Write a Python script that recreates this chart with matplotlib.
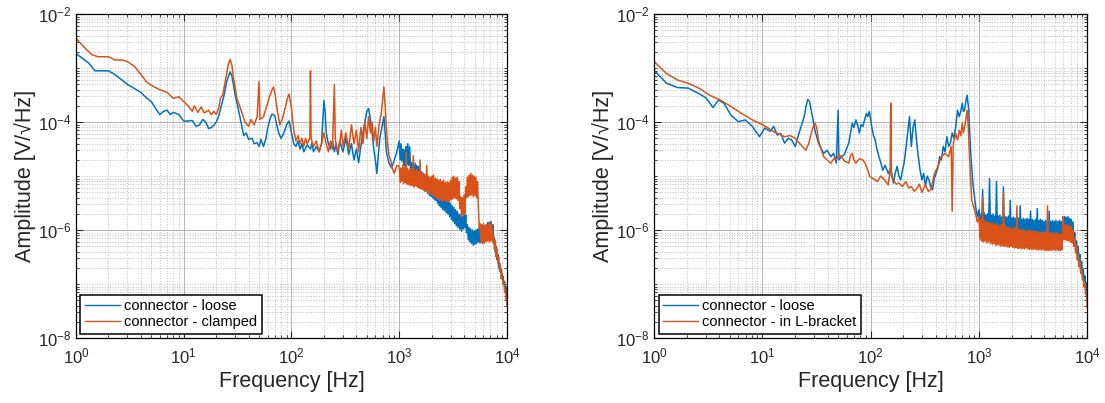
import numpy as np
import matplotlib
matplotlib.use('Agg')
import matplotlib.pyplot as plt
from matplotlib.ticker import FixedLocator, LogFormatterSciNotation, NullFormatter

plt.rcParams['font.family'] = ['Liberation Sans', 'DejaVu Sans']
plt.rcParams['mathtext.fontset'] = 'custom'
plt.rcParams['mathtext.rm'] = 'Liberation Sans'

BLUE = '#0072BD'
ORANGE = '#D95319'

# ---- spectra, amplitudes given as log10(V/sqrt(Hz)) ----

# left panel: loose vs clamped, 1 Hz .. 1 kHz
left_loose_f = [1.0, 1.3, 1.5, 2.0, 2.3, 3.0, 3.5, 4.0, 4.5, 5.0,
                5.5, 6.0, 6.5, 7.0, 7.5, 8.0, 9.0, 10, 11, 12,
                13, 14, 15, 16, 17, 18, 19, 20, 21, 22,
                23, 24, 25, 26, 27, 28, 29, 30, 32, 34,
                36, 38, 40, 43, 45, 48, 50, 52, 55, 58,
                60, 63, 66, 70, 73, 76, 80, 85, 90, 95,
                100, 105, 110, 115, 120, 125, 130, 140, 150, 155,
                160, 170, 180, 190, 200, 205, 210, 220, 230, 240,
                250, 260, 270, 280, 300, 320, 340, 360, 380, 400,
                420, 440, 460, 480, 500, 520, 540, 560, 580, 600,
                620, 640, 660, 690, 720, 740, 760, 800, 850, 900,
                950]
left_loose_a = [-2.73, -2.90, -3.05, -3.05, -3.12, -3.30, -3.38, -3.45, -3.55, -3.62,
                -3.75, -3.86, -3.80, -3.78, -3.86, -3.82, -3.86, -3.98, -3.98, -3.97,
                -4.08, -4.05, -3.95, -4.00, -4.12, -4.10, -4.06, -4.00, -3.90, -3.75,
                -3.60, -3.45, -3.25, -3.15, -3.07, -3.15, -3.32, -3.50, -3.75, -4.00,
                -4.25, -4.20, -4.32, -4.30, -4.40, -4.38, -4.45, -4.32, -4.45, -4.30,
                -4.12, -3.95, -3.85, -3.88, -4.05, -4.20, -4.30, -4.20, -4.05, -3.98,
                -4.20, -4.40, -4.45, -4.35, -4.50, -4.40, -4.55, -4.42, -4.50, -4.38,
                -4.55, -4.45, -4.55, -4.40, -3.60, -3.80, -4.20, -4.40, -4.50, -4.35,
                -4.55, -4.40, -4.60, -4.35, -4.55, -4.30, -4.60, -4.40, -4.70, -4.50,
                -4.75, -4.45, -4.20, -4.00, -3.80, -3.75, -3.95, -4.20, -4.50, -4.70,
                -4.95, -4.60, -4.30, -4.10, -3.90, -4.20, -4.55, -4.75, -4.85, -4.70,
                -4.55]

left_clamped_f = [1.0, 1.2, 1.4, 1.6, 2.0, 2.3, 2.7, 3.0, 3.5, 4.0,
                  4.5, 5.0, 6.0, 7.0, 8.0, 9.0, 10, 11, 12, 12.5,
                  13.5, 14.5, 15.5, 17, 18, 19, 20, 21, 22, 23,
                  24, 25, 26, 27, 28, 29, 30, 31, 33, 35,
                  37, 40, 42, 45, 48, 50, 51, 55, 58, 62,
                  66, 68, 70, 74, 78, 82, 87, 92, 95, 100,
                  105, 110, 115, 120, 125, 130, 135, 140, 148, 150,
                  152, 160, 170, 180, 190, 200, 210, 220, 230, 240,
                  250, 255, 265, 280, 290, 300, 320, 340, 360, 380,
                  400, 420, 440, 460, 480, 500, 520, 540, 560, 580,
                  600, 620, 650, 680, 700, 720, 740, 760, 780, 800,
                  830, 860, 900, 950]
left_clamped_a = [-2.45, -2.62, -2.75, -2.79, -2.79, -2.85, -2.85, -2.88, -2.97, -3.12,
                  -3.25, -3.32, -3.40, -3.45, -3.56, -3.53, -3.62, -3.70, -3.80, -3.70,
                  -3.82, -3.72, -3.83, -3.78, -3.86, -3.80, -3.86, -3.75, -3.55, -3.50,
                  -3.30, -3.10, -2.92, -2.84, -2.95, -3.20, -3.35, -3.55, -3.70, -3.85,
                  -4.00, -4.08, -3.95, -4.05, -3.90, -3.25, -3.95, -3.90, -3.75, -3.55,
                  -3.40, -3.35, -3.45, -3.80, -4.05, -3.95, -3.75, -3.55, -3.48, -3.75,
                  -4.15, -4.35, -4.25, -4.40, -4.30, -4.45, -4.30, -4.40, -4.30, -3.05,
                  -4.30, -4.45, -4.35, -4.55, -4.40, -4.20, -4.40, -4.55, -4.35, -4.50,
                  -3.30, -4.30, -4.55, -4.40, -4.15, -4.45, -4.20, -4.50, -4.05, -4.40,
                  -4.15, -4.55, -4.10, -4.40, -4.00, -4.30, -3.90, -4.20, -4.00, -4.35,
                  -4.10, -4.45, -4.05, -3.85, -3.60, -3.35, -3.70, -4.10, -4.40, -4.60,
                  -4.70, -4.85, -4.95, -4.80]

# right panel: loose vs L-bracket, 1 Hz .. 1 kHz
right_loose_f = [1.0, 1.3, 1.64, 2.06, 2.58, 3.0, 3.5, 3.92, 4.4, 5.12,
                 5.96, 6.93, 8.07, 9.39, 10.5, 11.8, 12.7, 13.7, 14.8, 16.0,
                 17.3, 18.6, 20.1, 21.7, 23.0, 24.3, 25.2, 26.2, 27.2, 28.2,
                 29.3, 30.5, 32.9, 36.8, 39.5, 42.9, 45.5, 48.1, 50.0, 50.8,
                 53.8, 57, 62.7, 65, 67.6, 70, 72.8, 75.5, 78.5, 81.5,
                 84.6, 88, 91.3, 94, 97.1, 102, 106, 110, 114, 119,
                 124, 129, 136, 145, 153, 162, 168, 175, 182, 189,
                 196, 203, 211, 219, 228, 237, 246, 255, 265, 275,
                 286, 297, 308, 320, 332, 345, 358, 372, 386, 401,
                 417, 433, 450, 467, 485, 504, 524, 544, 565, 587,
                 610, 633, 657, 678, 700, 717, 734, 755, 776, 790,
                 804, 835, 877, 930, 965]
right_loose_a = [-3.04, -3.28, -3.36, -3.37, -3.47, -3.55, -3.73, -3.59, -3.65, -3.87,
                 -3.99, -3.96, -4.08, -4.27, -4.11, -4.17, -4.08, -4.24, -4.21, -4.39,
                 -4.30, -4.33, -4.45, -4.21, -4.05, -3.90, -3.72, -3.58, -3.62, -3.78,
                 -3.95, -4.15, -4.39, -4.58, -4.52, -4.64, -4.58, -4.76, -3.78, -4.70,
                 -4.64, -4.60, -4.39, -4.20, -4.02, -4.10, -3.96, -4.05, -4.20, -4.05,
                 -4.08, -3.95, -3.84, -3.90, -3.80, -4.08, -4.25, -4.33, -4.50, -4.64,
                 -4.75, -4.89, -4.80, -4.95, -4.85, -5.13, -4.95, -4.82, -5.00, -5.07,
                 -4.90, -4.76, -4.50, -4.21, -3.90, -4.45, -4.10, -3.96, -4.35, -4.64,
                 -4.90, -5.07, -4.95, -5.19, -5.00, -5.07, -5.20, -5.25, -5.05, -4.95,
                 -4.85, -4.64, -4.70, -4.45, -4.55, -4.27, -4.45, -4.39, -4.20, -4.30,
                 -4.08, -3.78, -3.90, -3.80, -3.65, -3.80, -3.78, -3.62, -3.50, -3.65,
                 -3.78, -4.52, -5.13, -5.56, -5.75]

right_bracket_f = [1.0, 1.3, 1.64, 2.06, 2.58, 3.24, 4.07, 5.12, 6.42, 8.07,
                   10.1, 11.5, 12.7, 14.2, 16.0, 18.0, 20.1, 21.7, 23.4, 25.2,
                   26.7, 28.2, 29.3, 30.5, 31.7, 32.9, 34.8, 36.8, 39.5, 42.9,
                   45.5, 48.1, 50.8, 53.8, 57, 62.7, 65, 67.6, 70, 72.8,
                   78.5, 84.6, 88, 91.3, 98.4, 106, 115, 124, 134, 145,
                   151, 153, 155, 162, 172, 182, 196, 211, 224, 237,
                   251, 265, 281, 297, 320, 340, 360, 388, 418, 450,
                   485, 523, 553, 565, 578, 610, 633, 657, 680, 700,
                   717, 734, 755, 776, 794, 812, 855, 930, 965]
right_bracket_a = [-2.88, -3.10, -3.22, -3.28, -3.37, -3.50, -3.59, -3.71, -3.84, -3.96,
                   -4.05, -4.12, -4.18, -4.22, -4.27, -4.25, -4.30, -4.38, -4.45, -4.52,
                   -4.40, -4.21, -4.10, -4.02, -4.10, -4.33, -4.50, -4.64, -4.70, -4.76,
                   -4.68, -4.70, -4.60, -4.64, -4.72, -4.76, -4.62, -4.58, -4.70, -4.76,
                   -4.68, -4.70, -4.75, -4.82, -5.01, -5.05, -5.10, -5.00, -5.07, -5.16,
                   -4.90, -3.65, -5.00, -5.07, -5.15, -5.13, -5.19, -5.10, -5.22, -5.19,
                   -5.28, -5.24, -5.15, -5.30, -5.16, -5.28, -5.25, -4.95, -4.82, -4.64,
                   -4.58, -4.64, -4.45, -5.65, -4.40, -4.21, -4.33, -4.15, -4.25, -4.02,
                   -4.20, -4.10, -3.95, -3.78, -4.05, -4.52, -5.44, -5.70, -5.85]

# 1 kHz .. 10 kHz, dense noisy part of all four spectra
band_f = [1000, 1020, 1040, 1060, 1080, 1100, 1120, 1140, 1160, 1180,
          1200, 1225, 1250, 1275, 1300, 1325, 1350, 1375, 1400, 1425,
          1450, 1475, 1500, 1530, 1560, 1590, 1620, 1650, 1680, 1710,
          1740, 1770, 1800, 1835, 1870, 1905, 1940, 1975, 2010, 2045,
          2080, 2120, 2160, 2200, 2240, 2280, 2320, 2360, 2400, 2445,
          2490, 2535, 2580, 2630, 2680, 2730, 2780, 2830, 2880, 2935,
          2990, 3045, 3100, 3155, 3210, 3270, 3330, 3390, 3450, 3515,
          3580, 3645, 3710, 3780, 3850, 3920, 3990, 4065, 4140, 4215,
          4290, 4370, 4450, 4530, 4610, 4695, 4780, 4870, 4960, 5050,
          5140, 5235, 5330, 5430, 5530, 5630, 5730, 5835, 5940, 6050,
          6160, 6275, 6390, 6505, 6620, 6745, 6870, 6995, 7120, 7250,
          7380, 7515, 7650, 7795, 7940, 8085, 8230, 8380, 8530, 8690,
          8850, 9010, 9170, 9340, 9510, 9685, 9860, 9930, 10000]
left_loose_band = [-4.35, -4.70, -4.40, -4.72, -4.50, -4.80, -4.52, -4.82, -4.45, -4.78,
                   -4.40, -4.80, -4.45, -4.90, -4.75, -5.02, -4.78, -5.05, -4.76, -5.06,
                   -4.80, -5.08, -4.82, -5.15, -4.90, -5.20, -4.92, -5.22, -4.95, -5.25,
                   -4.98, -5.28, -5.00, -5.32, -5.08, -5.36, -5.10, -5.38, -5.12, -5.40,
                   -5.15, -5.44, -5.18, -5.46, -5.20, -5.50, -5.28, -5.55, -5.30, -5.58,
                   -5.34, -5.62, -5.36, -5.64, -5.40, -5.68, -5.42, -5.70, -5.45, -5.75,
                   -5.50, -5.80, -5.55, -5.84, -5.58, -5.88, -5.62, -5.92, -5.65, -5.95,
                   -5.70, -5.98, -5.72, -6.02, -5.75, -5.98, -5.70, -5.96, -5.72, -6.05,
                   -5.90, -6.18, -5.95, -6.22, -5.98, -6.25, -6.00, -6.28, -6.02, -6.26,
                   -6.00, -6.25, -5.98, -6.22, -5.96, -6.24, -5.95, -6.22, -5.94, -6.20,
                   -5.92, -6.18, -5.90, -6.16, -5.86, -6.15, -5.85, -6.14, -5.84, -6.15,
                   -5.90, -6.25, -6.15, -6.40, -6.30, -6.55, -6.45, -6.70, -6.60, -6.78,
                   -6.72, -6.90, -6.85, -7.00, -6.95, -7.12, -7.05, -7.20, -7.32]
left_clamped_band = [-4.82, -5.12, -4.85, -5.10, -4.80, -5.14, -4.84, -5.12, -4.55, -5.15,
                     -4.86, -5.16, -4.88, -5.18, -4.86, -5.17, -4.62, -5.20, -4.90, -5.18,
                     -4.88, -5.20, -4.92, -5.22, -4.70, -5.24, -4.96, -5.25, -4.95, -5.28,
                     -4.98, -5.26, -4.80, -5.30, -5.00, -5.32, -5.02, -5.34, -5.00, -5.36,
                     -4.98, -5.38, -5.04, -5.40, -5.05, -5.42, -5.08, -5.44, -5.06, -5.45,
                     -5.10, -5.46, -5.08, -5.45, -5.12, -5.47, -5.10, -5.48, -5.12, -5.46,
                     -5.08, -5.44, -5.02, -5.42, -5.00, -5.40, -5.04, -5.42, -5.02, -5.45,
                     -5.10, -5.60, -5.38, -5.75, -5.40, -5.72, -5.35, -5.70, -5.20, -5.40,
                     -5.02, -5.38, -4.98, -5.36, -4.95, -5.35, -4.98, -5.38, -5.00, -5.36,
                     -5.02, -5.40, -5.10, -5.60, -5.95, -5.88, -6.22, -5.90, -6.25, -5.88,
                     -6.24, -5.92, -6.22, -5.90, -6.20, -5.88, -6.22, -5.86, -6.20, -5.90,
                     -6.22, -6.10, -6.35, -6.20, -6.50, -6.35, -6.60, -6.50, -6.75, -6.65,
                     -6.90, -6.80, -7.00, -6.95, -7.15, -7.10, -7.30, -7.25, -7.40]
right_loose_band = [-5.62, -5.96, -5.70, -5.98, -5.25, -6.00, -5.68, -5.98, -5.72, -6.02,
                    -5.70, -6.00, -5.05, -6.02, -5.72, -6.04, -5.70, -6.05, -5.74, -6.02,
                    -5.10, -6.04, -5.74, -6.06, -5.72, -6.05, -5.76, -6.08, -5.20, -6.06,
                    -5.75, -6.08, -5.76, -6.10, -5.74, -6.08, -5.45, -6.10, -5.78, -6.08,
                    -5.76, -6.10, -5.78, -6.12, -5.76, -6.10, -5.78, -6.12, -5.55, -6.10,
                    -5.80, -6.12, -5.78, -6.12, -5.80, -6.10, -5.78, -6.12, -5.80, -6.12,
                    -5.65, -6.12, -5.80, -6.14, -5.82, -6.12, -5.80, -6.14, -5.60, -6.12,
                    -5.82, -6.14, -5.80, -6.12, -5.82, -6.14, -5.84, -6.12, -5.82, -6.14,
                    -5.84, -6.12, -5.65, -6.14, -5.84, -6.12, -5.82, -6.14, -5.84, -6.12,
                    -5.82, -6.14, -5.84, -6.12, -5.82, -6.12, -5.84, -6.10, -5.76, -6.06,
                    -5.75, -6.06, -5.76, -6.08, -5.75, -6.10, -5.78, -6.08, -5.80, -6.12,
                    -5.85, -6.18, -6.05, -6.35, -6.20, -6.45, -6.30, -6.58, -6.45, -6.70,
                    -6.58, -6.82, -6.72, -6.95, -6.85, -7.05, -6.98, -7.15, -7.28]
right_bracket_band = [-5.75, -6.18, -5.80, -6.20, -5.40, -6.22, -5.82, -6.20, -5.85, -6.24,
                      -5.84, -6.22, -5.86, -6.25, -5.88, -6.26, -5.86, -6.25, -5.90, -6.28,
                      -5.88, -6.27, -5.90, -6.28, -5.92, -6.30, -5.90, -6.28, -5.30, -6.30,
                      -5.92, -6.30, -5.94, -6.31, -5.95, -6.32, -5.96, -6.30, -5.98, -6.32,
                      -5.95, -6.33, -5.96, -6.32, -5.55, -6.34, -5.98, -6.33, -6.00, -6.35,
                      -5.98, -6.34, -6.00, -6.35, -6.00, -6.33, -6.02, -6.35, -6.00, -6.36,
                      -6.00, -6.35, -6.02, -6.36, -6.02, -6.35, -6.03, -6.36, -6.02, -6.37,
                      -6.04, -6.36, -6.05, -6.37, -6.04, -6.36, -6.03, -6.38, -6.05, -6.37,
                      -5.55, -6.38, -6.05, -6.37, -6.06, -6.38, -6.05, -6.36, -6.05, -6.38,
                      -6.06, -6.37, -6.05, -6.38, -6.07, -6.38, -6.08, -6.36, -5.75, -6.18,
                      -5.90, -6.18, -5.92, -6.20, -5.90, -6.20, -5.92, -6.22, -5.94, -6.24,
                      -6.00, -6.30, -6.15, -6.42, -6.30, -6.55, -6.45, -6.68, -6.58, -6.80,
                      -6.72, -6.92, -6.88, -7.05, -7.00, -7.20, -7.15, -7.30, -7.45]

left_labels = ['connector - loose', 'connector - clamped']
right_labels = ['connector - loose', 'connector - in L-bracket']

x_major = [1e0, 1e1, 1e2, 1e3, 1e4]
y_major = [1e-8, 1e-6, 1e-4, 1e-2]


def spectrum(f_low, a_low, a_band):
    f = np.concatenate([f_low, band_f])
    a = 10.0 ** np.concatenate([a_low, a_band])
    return f, a


def decade_minors(lo, hi, skip_decades):
    # 2..9 inside every decade, plus the decades that carry no label
    ticks = []
    for e in range(lo, hi):
        if 10.0 ** e not in skip_decades and e > lo:
            ticks.append(10.0 ** e)
        ticks.extend(k * 10.0 ** e for k in range(2, 10))
    return ticks


def style_axes(ax):
    ax.set_xscale('log')
    ax.set_yscale('log')
    ax.set_xlim(1, 1e4)
    ax.set_ylim(1e-8, 1e-2)
    ax.xaxis.set_major_locator(FixedLocator(x_major))
    ax.yaxis.set_major_locator(FixedLocator(y_major))
    ax.xaxis.set_minor_locator(FixedLocator(decade_minors(0, 4, x_major)))
    ax.yaxis.set_minor_locator(FixedLocator(decade_minors(-8, -2, y_major)))
    ax.xaxis.set_major_formatter(LogFormatterSciNotation())
    ax.yaxis.set_major_formatter(LogFormatterSciNotation())
    ax.xaxis.set_minor_formatter(NullFormatter())
    ax.yaxis.set_minor_formatter(NullFormatter())
    ax.grid(True, which='major', color='#aaaaaa', linestyle='-', linewidth=0.6)
    ax.grid(True, which='minor', color='#bdbdbd', linestyle=':', linewidth=0.7)
    ax.set_axisbelow(True)
    ax.tick_params(which='both', direction='in', top=True, right=True,
                   labelsize=12, colors='#262626')
    ax.tick_params(which='major', length=5, width=0.8)
    ax.tick_params(which='minor', length=2.5, width=0.6)
    ax.tick_params(axis='x', which='major', pad=6)
    for s in ax.spines.values():
        s.set_linewidth(0.9)
        s.set_color('black')
    ax.set_xlabel('Frequency [Hz]', fontsize=15.5, color='#262626', labelpad=3)
    ax.set_ylabel('Amplitude [V/\u221aHz]', fontsize=15.5, color='#262626', labelpad=1)


fig = plt.figure(figsize=(11.05, 4.03), dpi=100)
ax1 = fig.add_axes([0.0688, 0.161, 0.390, 0.804])
ax2 = fig.add_axes([0.592, 0.161, 0.392, 0.804])

f, a = spectrum(left_loose_f, left_loose_a, left_loose_band)
ax1.plot(f, a, color=BLUE, lw=1.1, label=left_labels[0])
f, a = spectrum(left_clamped_f, left_clamped_a, left_clamped_band)
ax1.plot(f, a, color=ORANGE, lw=1.1, label=left_labels[1])

f, a = spectrum(right_loose_f, right_loose_a, right_loose_band)
ax2.plot(f, a, color=BLUE, lw=1.1, label=right_labels[0])
f, a = spectrum(right_bracket_f, right_bracket_a, right_bracket_band)
ax2.plot(f, a, color=ORANGE, lw=1.1, label=right_labels[1])

for ax in (ax1, ax2):
    style_axes(ax)
    leg = ax.legend(loc='lower left', fontsize=10.5, fancybox=False, framealpha=1,
                    edgecolor='black', handlelength=2.4, handletextpad=0.3,
                    labelspacing=0.15, borderpad=0.3, borderaxespad=0.3)
    leg.get_frame().set_linewidth(1.1)
    for line in leg.get_lines():
        line.set_linewidth(1.0)

fig.savefig('out.png', dpi=100)
